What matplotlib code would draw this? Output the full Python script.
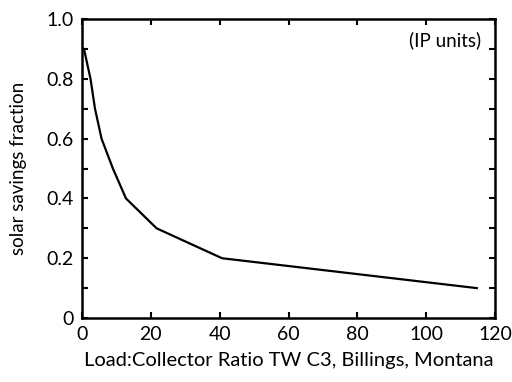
import numpy as np
import matplotlib
matplotlib.use("Agg")
import matplotlib.pyplot as plt
from matplotlib.ticker import MultipleLocator, FuncFormatter

plt.rcParams['font.family'] = ['Lato', 'DejaVu Sans']

# load:collector ratio vs solar savings fraction
lcr = [0.6, 2.5, 3.8, 5.7, 9.0, 12.8, 21.7, 40.7, 114.7]
ssf = [0.9, 0.8, 0.7, 0.6, 0.5, 0.4, 0.3, 0.2, 0.1]

fig = plt.figure(figsize=(5.12, 3.82), dpi=100)
ax = fig.add_axes([0.16, 0.1675, 0.807, 0.7825])

ax.plot(lcr, ssf, color='black', linewidth=1.6)

ax.set_xlim(0, 120)
ax.set_ylim(0, 1.0)
ax.xaxis.set_major_locator(MultipleLocator(20))
ax.yaxis.set_major_locator(MultipleLocator(0.2))
ax.yaxis.set_minor_locator(MultipleLocator(0.1))
ax.yaxis.set_major_formatter(FuncFormatter(lambda v, p: "0" if abs(v) < 1e-9 else f"{v:.1f}"))
ax.xaxis.set_major_formatter(FuncFormatter(lambda v, p: f"{v:.0f}"))

ax.tick_params(which='both', direction='in', top=True, right=True, width=1.5, labelsize=14)
ax.tick_params(which='major', length=4)
ax.tick_params(which='minor', length=4)
ax.tick_params(axis='x', pad=6)
ax.tick_params(axis='y', pad=6)
for s in ax.spines.values():
    s.set_linewidth(1.8)

ax.set_xlabel("Load:Collector Ratio TW C3, Billings, Montana", fontsize=14.5, labelpad=6)
ax.set_ylabel("solar savings fraction", fontsize=13.5, labelpad=14)
ax.text(0.965, 0.93, "(IP units)", transform=ax.transAxes, ha='right', va='center', fontsize=13.5)

fig.savefig("out.png", dpi=100)
